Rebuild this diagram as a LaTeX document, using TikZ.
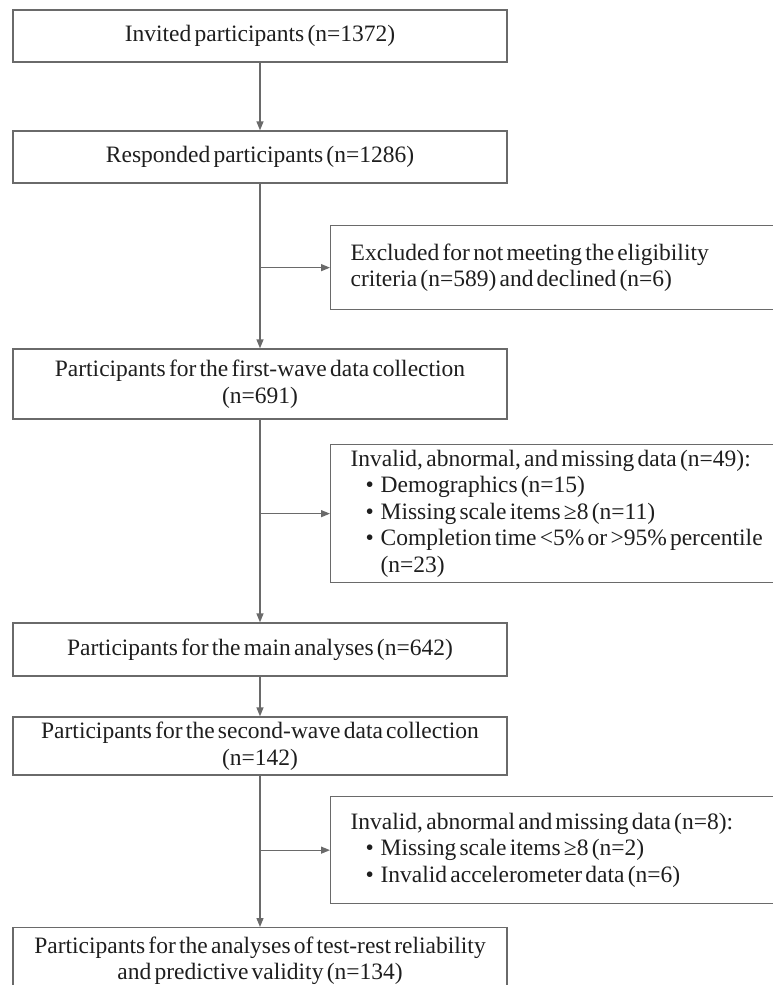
\documentclass[tikz,border=0pt]{standalone}
\usepackage{fontspec}
\setmainfont{Liberation Serif}[WordSpace={0.55,0.4,0.2}]
\usetikzlibrary{arrows.meta}
\definecolor{boxgray}{HTML}{6A6A6A}
\definecolor{txt}{HTML}{1E1E1E}
\newcommand{\bulitem}{\hspace*{15pt}\makebox[15pt][l]{•}}
\newcommand{\reffont}{\fontsize{23.5}{26.5}\selectfont\hyphenpenalty=10000\exhyphenpenalty=10000}
\begin{document}
\begin{tikzpicture}[x=1pt,y=-1pt,
  box/.style={draw=boxgray, line width=1.3pt, rectangle, inner xsep=2pt, inner ysep=2pt, text=txt, font=\reffont},
  mainbox/.style={box, minimum width=494pt, text width=490pt, align=flush center},
  sidebox/.style={box, anchor=north west, minimum width=480pt, text width=440pt, inner xsep=20pt, align=flush left},
  conn/.style={draw=boxgray, line width=1.3pt, -{Triangle[length=9pt,width=7pt]}}
]
\useasboundingbox (0,0) rectangle (773,985);
\clip (0,0) rectangle (773,985);

\node[mainbox, minimum height=52pt] (b1) at (260,36) {Invited participants (n=1372)};
\node[mainbox, minimum height=52pt] (b2) at (260,157) {Responded participants (n=1286)};
\node[sidebox, minimum height=84pt] (ex) at (330,225) {Excluded for not meeting the eligibility\\criteria (n=589) and declined (n=6)};
\node[mainbox, minimum height=70pt] (b3) at (260,384) {Participants for the first-wave data collection\\(n=691)};
\node[sidebox, minimum height=138pt] (inv1) at (330,444) {Invalid, abnormal, and missing data (n=49):\\\bulitem Demographics (n=15)\\\bulitem Missing scale items ≥8 (n=11)\\\bulitem Completion time <5\% or >95\% percentile\\\hspace*{30pt}(n=23)};
\node[mainbox, minimum height=53pt] (b4) at (260,649.5) {Participants for the main analyses (n=642)};
\node[mainbox, minimum height=58pt] (b5) at (260,746) {Participants for the second-wave data collection\\(n=142)};
\node[sidebox, minimum height=107pt] (inv2) at (330,796) {Invalid, abnormal and missing data (n=8):\\\bulitem Missing scale items ≥8 (n=2)\\\bulitem Invalid accelerometer data (n=6)};
\node[mainbox, anchor=north, inner ysep=9pt] (b6) at (260,927) {Participants for the analyses of test-rest reliability\\and predictive validity (n=134)};

\draw[conn] (b1) -- (b2);
\draw[conn] (b2) -- (b3);
\draw[conn] (b2.south |- ex.west) -- (ex.west);
\draw[conn] (b3) -- (b4);
\draw[conn] (b3.south |- inv1.west) -- (inv1.west);
\draw[conn] (b4) -- (b5);
\draw[conn] (b5) -- (b6);
\draw[conn] (b5.south |- inv2.west) -- (inv2.west);
\end{tikzpicture}
\end{document}
